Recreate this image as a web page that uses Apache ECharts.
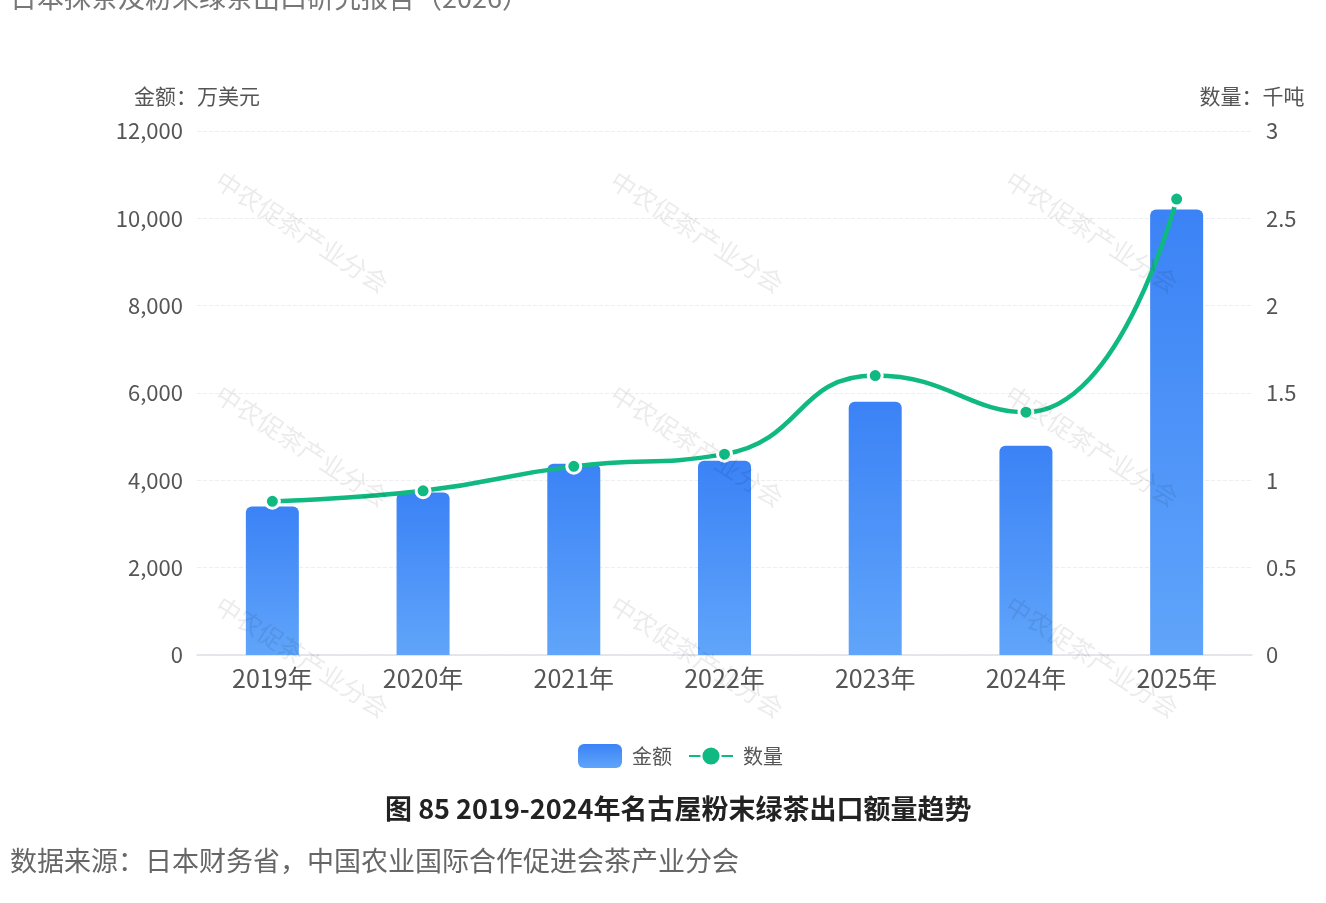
<!DOCTYPE html>
<html><head><meta charset="utf-8">
<script src="https://cdn.jsdelivr.net/npm/echarts@6/dist/echarts.min.js"></script>
<style>html,body{margin:0;padding:0;background:#fff;}#c{width:1326px;height:903px;}</style>
</head><body><div id="c"></div>
<script>
const categories = ['2019年','2020年','2021年','2022年','2023年','2024年','2025年'];
const amountValues = [3400, 3720, 4380, 4450, 5800, 4790, 10200];
const quantityValues = [0.88, 0.94, 1.08, 1.15, 1.60, 1.39, 2.61];
const seriesNames = ['金额', '数量'];
const axisNames = ['金额：万美元', '数量：千吨'];
const topTitle = '日本抹茶及粉末绿茶出口研究报告（2026）';
const caption = '图 85 2019-2024年名古屋粉末绿茶出口额量趋势';
const source = '数据来源：日本财务省，中国农业国际合作促进会茶产业分会';
const watermark = '中农促茶产业分会';

const FONT = '"Noto Sans CJK SC","Noto Sans",sans-serif';
const chart = echarts.init(document.getElementById('c'), null, {renderer:'canvas'});

const wm = [];
[302, 697, 1092].forEach(x => [232, 446, 657].forEach(y => {
  wm.push({type:'text', x:x, y:y, rotation:-Math.PI*33/180, z:100, silent:true,
    style:{text:watermark, fill:'rgba(0,0,0,0.08)', font:'25px '+FONT, align:'center', verticalAlign:'middle'}});
}));

chart.setOption({
  animation:false,
  textStyle:{fontFamily:FONT},
  grid:{left:197, right:74, top:131, bottom:248},
  legend:{
    data:[{name:seriesNames[0], icon:'roundRect'}, {name:seriesNames[1]}],
    bottom:130, left:573, itemWidth:44, itemHeight:24, itemGap:16,
    textStyle:{fontSize:20, color:'#555', padding:[0,0,0,5]}
  },
  xAxis:{
    type:'category', data:categories,
    axisLine:{lineStyle:{color:'#dcdfe6', width:1.5}},
    axisTick:{show:false},
    axisLabel:{fontSize:25, color:'#555', margin:11}
  },
  yAxis:[
    {type:'value', min:0, max:12000, interval:2000, name:axisNames[0], nameGap:24,
     nameTextStyle:{fontSize:21, color:'#555'},
     axisLine:{show:false}, axisTick:{show:false},
     axisLabel:{fontSize:22, color:'#555', margin:14, formatter:v=>v.toLocaleString('en-US')},
     splitLine:{lineStyle:{type:'dashed', color:'#eceef2'}}},
    {type:'value', min:0, max:3, interval:0.5, name:axisNames[1], nameGap:24,
     nameTextStyle:{fontSize:21, color:'#555'},
     axisLine:{show:false}, axisTick:{show:false},
     axisLabel:{fontSize:22, color:'#555', margin:14},
     splitLine:{show:false}}
  ],
  series:[
    {name:seriesNames[0], type:'bar', data:amountValues, barWidth:53,
     itemStyle:{borderRadius:[6,6,0,0],
       color:new echarts.graphic.LinearGradient(0,0,0,1,[{offset:0,color:'#3b82f6'},{offset:1,color:'#60a5fa'}])}},
    {name:seriesNames[1], type:'line', yAxisIndex:1, data:quantityValues, smooth:true,
     symbol:'circle', symbolSize:14,
     lineStyle:{color:'#10b981', width:4.5},
     itemStyle:{color:'#10b981', borderColor:'#fff', borderWidth:3}}
  ],
  graphic:[
    {type:'text', left:10, top:-16, style:{text:topTitle, fill:'#777', font:'27px '+FONT}},
    {type:'text', left:385, top:795, style:{text:caption, fill:'#222', font:'bold 27px '+FONT}},
    {type:'text', left:10, top:847, style:{text:source, fill:'#666', font:'27px '+FONT}}
  ].concat(wm)
});
</script></body></html>
